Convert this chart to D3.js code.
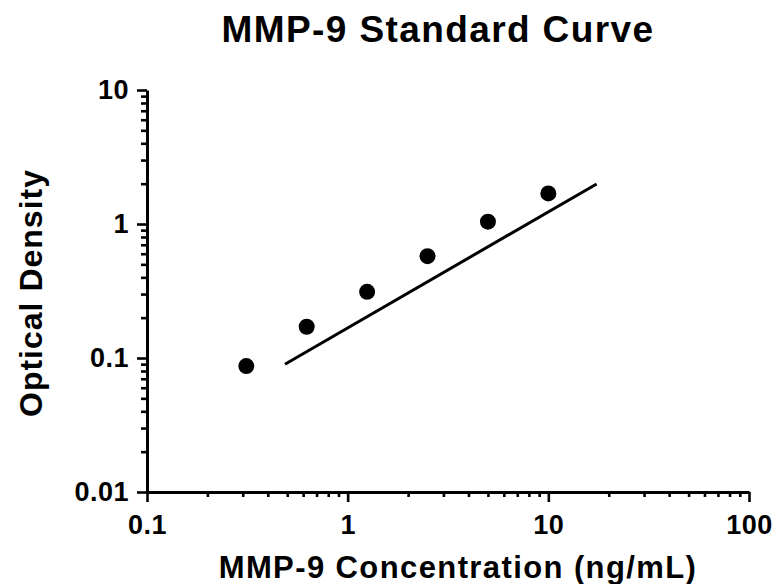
<!DOCTYPE html>
<html>
<head>
<meta charset="utf-8">
<script src="https://cdn.jsdelivr.net/npm/d3@7"></script>
<style>
  body { margin: 0; background: #fff; }
  text { font-family: "Liberation Sans", Arial, sans-serif; font-weight: bold; fill: #000; }
</style>
</head>
<body>
<svg id="chart"></svg>
<script>
(function() {

// standard concentrations (ng/mL) and measured OD
const concentrations = [0.3125, 0.625, 1.25, 2.5, 5, 10];
const opticalDensity = [0.087, 0.171, 0.312, 0.575, 1.04, 1.69];

// fitted line end points
const fitX = [0.487, 17.4];
const fitY = [0.0899, 1.99];

const xTicks = [0.1, 1, 10, 100];
const yTicks = [0.01, 0.1, 1, 10];

const width = 778;
const height = 584;
const margin = {top: 90, right: 29, bottom: 92, left: 147};

const svg = d3.select("#chart")
    .attr("width", width)
    .attr("height", height);

const x = d3.scaleLog()
    .domain([0.1, 100])
    .range([margin.left, width - margin.right]);

const y = d3.scaleLog()
    .domain([0.01, 10])
    .range([height - margin.bottom, margin.top]);

// minor ticks 2..9 in every decade
function minors(ticks) {
    const out = [];
    for (let i = 0; i < ticks.length - 1; i++) {
        for (let k = 2; k <= 9; k++) out.push(ticks[i] * k);
    }
    return out;
}

function styleAxis(g) {
    g.selectAll("path, line").attr("stroke", "#000").attr("stroke-width", 3);
    g.selectAll("line").attr("stroke-width", 2.6);
}

// x axis
const xMinor = svg.append("g")
    .attr("transform", `translate(0,${y(0.01)})`)
    .call(d3.axisBottom(x).tickValues(minors(xTicks)).tickSize(5).tickSizeOuter(0).tickFormat(""));
xMinor.select(".domain").remove();
styleAxis(xMinor);

const xAxis = svg.append("g")
    .attr("transform", `translate(0,${y(0.01)})`)
    .call(d3.axisBottom(x).tickValues(xTicks).tickSize(10).tickSizeOuter(0).tickPadding(13)
        .tickFormat(d => d3.format("~g")(d)));
styleAxis(xAxis);
xAxis.selectAll("text").attr("font-size", 27).attr("letter-spacing", 0.5).attr("fill", "#000");

// y axis
const yMinor = svg.append("g")
    .attr("transform", `translate(${x(0.1)},0)`)
    .call(d3.axisLeft(y).tickValues(minors(yTicks)).tickSize(6).tickSizeOuter(0).tickFormat(""));
yMinor.select(".domain").remove();
styleAxis(yMinor);

const yAxis = svg.append("g")
    .attr("transform", `translate(${x(0.1)},0)`)
    .call(d3.axisLeft(y).tickValues(yTicks).tickSize(10).tickSizeOuter(0).tickPadding(8)
        .tickFormat(d => d3.format("~g")(d)));
styleAxis(yAxis);
yAxis.selectAll("text").attr("font-size", 27).attr("letter-spacing", 0.5).attr("fill", "#000");

// fit line
svg.append("path")
    .datum(fitX.map((d, i) => [d, fitY[i]]))
    .attr("fill", "none")
    .attr("stroke", "#000")
    .attr("stroke-width", 3)
    .attr("d", d3.line().x(d => x(d[0])).y(d => y(d[1])));

// points
svg.selectAll(".pt")
    .data(concentrations)
    .join("circle")
    .attr("class", "pt")
    .attr("cx", d => x(d))
    .attr("cy", (d, i) => y(opticalDensity[i]))
    .attr("r", 8)
    .attr("fill", "#000");

// title and labels
svg.append("text")
    .attr("x", 438)
    .attr("y", 42)
    .attr("text-anchor", "middle")
    .attr("font-size", 37)
    .attr("letter-spacing", 1.4)
    .text("MMP-9 Standard Curve");

svg.append("text")
    .attr("x", 458)
    .attr("y", 578)
    .attr("text-anchor", "middle")
    .attr("font-size", 31)
    .attr("letter-spacing", 1.4)
    .text("MMP-9 Concentration (ng/mL)");

svg.append("text")
    .attr("transform", `translate(42,293) rotate(-90)`)
    .attr("text-anchor", "middle")
    .attr("font-size", 32)
    .attr("letter-spacing", 1)
    .text("Optical Density");

})();
</script>
</body>
</html>
